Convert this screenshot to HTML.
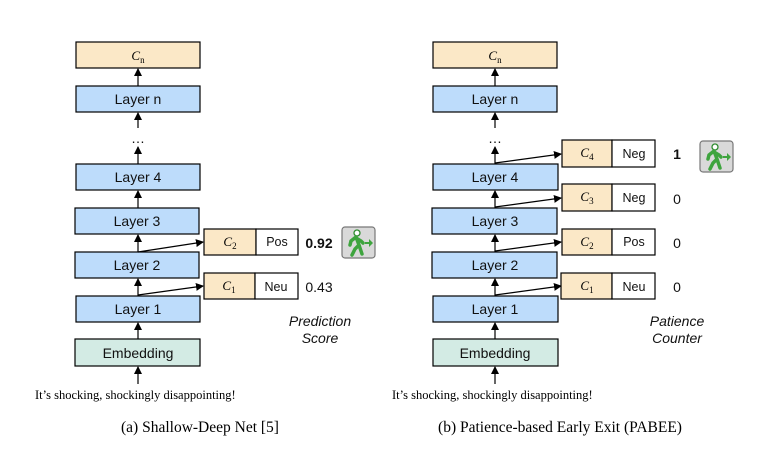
<!DOCTYPE html>
<html><head><meta charset="utf-8"><style>
html,body{margin:0;padding:0;background:#fff;}
svg{display:block;}
.lay{fill:#bddcfb;stroke:#000;stroke-width:1.2;}
.emb{fill:#d3ebe4;stroke:#000;stroke-width:1.2;}
.cls{fill:#fbe8c7;stroke:#000;stroke-width:1.2;}
.wh{fill:#fff;stroke:#000;stroke-width:1.2;}
.t{font-family:"Liberation Sans",sans-serif;font-size:14px;text-anchor:middle;fill:#111;}
.s{font-family:"Liberation Sans",sans-serif;font-size:12.5px;text-anchor:middle;fill:#111;}
.m{font-family:"Liberation Serif",serif;font-style:italic;font-size:13px;text-anchor:middle;}
.m tspan{font-style:normal;}
.ser{font-family:"Liberation Serif",serif;font-size:12.5px;}
.cap{font-family:"Liberation Serif",serif;font-size:15.5px;text-anchor:middle;}
.ar{stroke:#000;stroke-width:1.2;fill:none;marker-end:url(#ah);}
</style></head><body>
<svg width="774" height="451" viewBox="0 0 774 451">
<defs><marker id="ah" markerWidth="8" markerHeight="8" refX="7" refY="4" orient="auto" markerUnits="userSpaceOnUse"><path d="M0,0 L8,4 L0,8 z" fill="#000"/></marker>
<g id="icon"><rect x="0" y="0" width="33" height="31" rx="3" fill="#d9d9d9" stroke="#777" stroke-width="1.2"/>
<circle cx="15" cy="6" r="3" fill="#fff" stroke="#2e8b2e" stroke-width="1.3"/>
<path d="M14,10 L9,14 L8,18 M14,10 L17,18 L13,22 L10,28 M17,18 L20,27 M14,11 L19,14 L21,16" stroke="#3ea43e" stroke-width="3.5" fill="none" stroke-linecap="round"/>
<path d="M23,15 h4 v-3 l4,4 l-4,4 v-3 h-4z" fill="#3ea43e"/></g></defs>

<g>
<rect class="cls" x="76" y="42" width="124" height="26"/><text class="m" x="138" y="60">C<tspan font-size="9" dy="3">n</tspan></text>
<rect class="lay" x="76" y="86" width="124" height="26"/><text class="t" x="138" y="104">Layer n</text>
<text class="t" x="138" y="143">…</text>
<rect class="lay" x="76" y="164" width="124" height="26"/><text class="t" x="138" y="182">Layer 4</text>
<rect class="lay" x="75" y="208" width="124" height="26"/><text class="t" x="137" y="226">Layer 3</text>
<rect class="lay" x="75" y="252" width="124" height="26"/><text class="t" x="137" y="270">Layer 2</text>
<rect class="lay" x="76" y="296" width="124" height="26"/><text class="t" x="138" y="314">Layer 1</text>
<rect class="emb" x="75" y="339" width="125" height="27"/><text class="t" x="138" y="358">Embedding</text>
<line class="ar" x1="138" y1="384" x2="138" y2="367"/>
<line class="ar" x1="138" y1="339" x2="138" y2="323"/>
<line class="ar" x1="138" y1="296" x2="138" y2="279"/>
<line class="ar" x1="138" y1="252" x2="138" y2="235"/>
<line class="ar" x1="138" y1="208" x2="138" y2="191"/>
<line class="ar" x1="138" y1="164" x2="138" y2="147"/>
<line class="ar" x1="138" y1="128" x2="138" y2="113"/>
<line class="ar" x1="138" y1="86" x2="138" y2="69"/>
<line class="ar" x1="138" y1="252" x2="203" y2="242"/>
<line class="ar" x1="138" y1="295" x2="203" y2="286"/>
<rect class="cls" x="204" y="229" width="52" height="26"/><rect class="wh" x="256" y="229" width="42" height="26"/>
<text class="m" x="230" y="246">C<tspan font-size="9" dy="3">2</tspan></text><text class="s" x="277" y="246">Pos</text>
<rect class="cls" x="204" y="273" width="51" height="26"/><rect class="wh" x="255" y="273" width="43" height="26"/>
<text class="m" x="229" y="290">C<tspan font-size="9" dy="3">1</tspan></text><text class="s" x="276" y="291">Neu</text>
<text class="t" x="319" y="248" font-weight="bold">0.92</text>
<text class="t" x="319" y="292">0.43</text>
<use href="#icon" x="342" y="227"/>
<text class="t" x="320" y="326" font-style="italic">Prediction</text>
<text class="t" x="320" y="343" font-style="italic">Score</text>
<text class="ser" x="35" y="399">It’s shocking, shockingly disappointing!</text>
<text class="cap" x="200" y="432">(a) Shallow-Deep Net [5]</text>
</g>

<g>
<rect class="cls" x="433" y="42" width="124" height="26"/><text class="m" x="495" y="60">C<tspan font-size="9" dy="3">n</tspan></text>
<rect class="lay" x="433" y="86" width="124" height="26"/><text class="t" x="495" y="104">Layer n</text>
<text class="t" x="495" y="143">…</text>
<rect class="lay" x="433" y="164" width="125" height="26"/><text class="t" x="495" y="182">Layer 4</text>
<rect class="lay" x="432" y="208" width="125" height="26"/><text class="t" x="495" y="226">Layer 3</text>
<rect class="lay" x="432" y="252" width="125" height="26"/><text class="t" x="495" y="270">Layer 2</text>
<rect class="lay" x="433" y="296" width="125" height="26"/><text class="t" x="495" y="314">Layer 1</text>
<rect class="emb" x="433" y="339" width="125" height="27"/><text class="t" x="495" y="358">Embedding</text>
<line class="ar" x1="495" y1="384" x2="495" y2="367"/>
<line class="ar" x1="495" y1="339" x2="495" y2="323"/>
<line class="ar" x1="495" y1="296" x2="495" y2="279"/>
<line class="ar" x1="495" y1="252" x2="495" y2="235"/>
<line class="ar" x1="495" y1="208" x2="495" y2="191"/>
<line class="ar" x1="495" y1="164" x2="495" y2="147"/>
<line class="ar" x1="495" y1="128" x2="495" y2="113"/>
<line class="ar" x1="495" y1="86" x2="495" y2="69"/>
<line class="ar" x1="495" y1="163" x2="561" y2="154"/>
<line class="ar" x1="495" y1="207" x2="561" y2="198"/>
<line class="ar" x1="495" y1="251" x2="561" y2="242"/>
<line class="ar" x1="495" y1="295" x2="561" y2="286"/>
<rect class="cls" x="562" y="140" width="50" height="27"/><rect class="wh" x="612" y="140" width="43" height="27"/>
<text class="m" x="587" y="157">C<tspan font-size="9" dy="3">4</tspan></text><text class="s" x="634" y="158">Neg</text>
<rect class="cls" x="562" y="184" width="50" height="27"/><rect class="wh" x="612" y="184" width="43" height="27"/>
<text class="m" x="587" y="201">C<tspan font-size="9" dy="3">3</tspan></text><text class="s" x="634" y="202">Neg</text>
<rect class="cls" x="562" y="229" width="50" height="26"/><rect class="wh" x="612" y="229" width="43" height="26"/>
<text class="m" x="587" y="246">C<tspan font-size="9" dy="3">2</tspan></text><text class="s" x="634" y="246">Pos</text>
<rect class="cls" x="561" y="273" width="51" height="26"/><rect class="wh" x="612" y="273" width="43" height="26"/>
<text class="m" x="587" y="290">C<tspan font-size="9" dy="3">1</tspan></text><text class="s" x="634" y="291">Neu</text>
<text class="t" x="677" y="159" font-weight="bold">1</text>
<text class="t" x="677" y="204">0</text>
<text class="t" x="677" y="248">0</text>
<text class="t" x="677" y="292">0</text>
<use href="#icon" x="700" y="141"/>
<text class="t" x="677" y="326" font-style="italic">Patience</text>
<text class="t" x="677" y="343" font-style="italic">Counter</text>
<text class="ser" x="392" y="399">It’s shocking, shockingly disappointing!</text>
<text class="cap" x="560" y="432">(b) Patience-based Early Exit (PABEE)</text>
</g>
</svg>
</body></html>
